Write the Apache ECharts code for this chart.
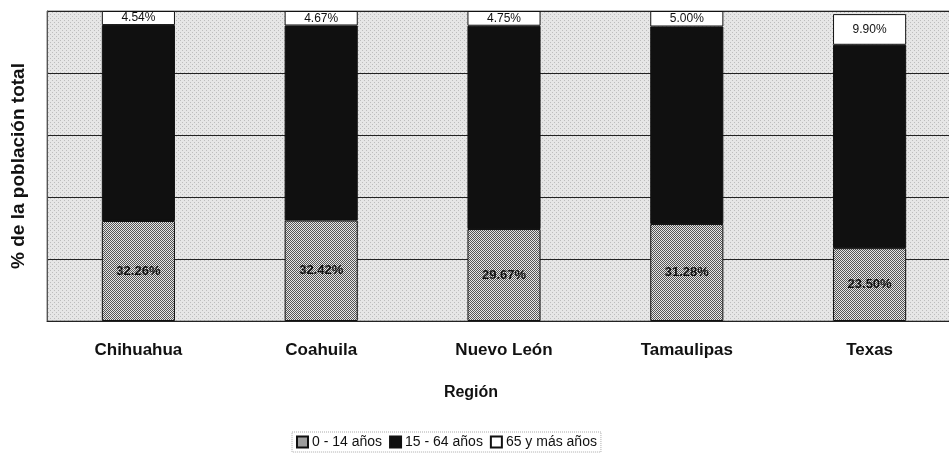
<!DOCTYPE html>
<html>
<head>
<meta charset="utf-8">
<script src="https://cdn.jsdelivr.net/npm/echarts@6/dist/echarts.min.js"></script>
<style>
  html, body { margin: 0; padding: 0; background: #fff; overflow: hidden; }
  /* el área de trazado sigue más allá del borde derecho, como en el original */
  #chart { width: 961px; height: 458px; }
</style>
</head>
<body>
<div id="chart"></div>
<script>
// datos por región (% de la población total)
const regiones = ['Chihuahua', 'Coahuila', 'Nuevo León', 'Tamaulipas', 'Texas'];
const grupos = ['0 - 14 años', '15 - 64 años', '65 y más años'];
const ninos = [32.26, 32.42, 29.67, 31.28, 23.50];
const adultos = [63.20, 62.91, 65.58, 63.72, 65.60];
const mayores = [4.54, 4.67, 4.75, 5.00, 9.90];

// pequeños patrones punteados como en la imagen original
function makePattern(size, fg, bg, test) {
  const c = document.createElement('canvas');
  c.width = size; c.height = size;
  const ctx = c.getContext('2d');
  ctx.fillStyle = bg;
  ctx.fillRect(0, 0, size, size);
  ctx.fillStyle = fg;
  for (let y = 0; y < size; y++) {
    for (let x = 0; x < size; x++) {
      if (test(x, y)) ctx.fillRect(x, y, 1, 1);
    }
  }
  return { image: c, repeat: 'repeat' };
}
const checker = makePattern(2, '#555555', '#e6e6e6', (x, y) => (x + y) % 2 === 0);
const fondo = makePattern(4, '#bdbdbd', '#e6e6e6', (x, y) => (x + y) % 4 === 0 && y % 2 === 0);

const chart = echarts.init(document.getElementById('chart'));
chart.setOption({
  backgroundColor: '#ffffff',
  textStyle: { fontFamily: 'Liberation Sans, Arial, sans-serif' },
  grid: {
    left: 47, right: 0, top: 11, bottom: 137,
    show: true,
    backgroundColor: fondo,
    borderColor: '#777',
    borderWidth: 1
  },
  legend: {
    data: grupos,
    bottom: 6,
    left: 292,
    itemWidth: 11,
    itemHeight: 11,
    itemGap: 7,
    padding: [3, 4, 3, 4],
    borderColor: '#aaa',
    borderWidth: 1,
    borderType: 'dotted',
    textStyle: { fontSize: 14, color: '#111', padding: [0, 0, 0, -1] },
    icon: 'rect'
  },
  xAxis: {
    type: 'category',
    data: regiones,
    name: 'Región',
    nameLocation: 'middle',
    nameGap: 64,
    nameTextStyle: { fontSize: 16, fontWeight: 'bold', color: '#111', padding: [0, 66, 0, 0] },
    axisLine: { lineStyle: { color: '#222', width: 1 } },
    axisTick: { show: false },
    axisLabel: { fontSize: 17, fontWeight: 'bold', color: '#111', margin: 21 }
  },
  yAxis: {
    type: 'value',
    min: 0,
    max: 100,
    interval: 20,
    name: '% de la población total',
    nameLocation: 'middle',
    nameGap: 19,
    nameTextStyle: { fontSize: 19, fontWeight: 'bold', color: '#111' },
    axisLine: { show: true, lineStyle: { color: '#555' } },
    axisTick: { show: false },
    axisLabel: { show: false },
    splitLine: { lineStyle: { color: '#222', width: 1 } }
  },
  series: [
    {
      name: grupos[0],
      type: 'bar',
      stack: 'total',
      barWidth: '40%',
      data: ninos,
      itemStyle: { color: checker, borderColor: '#111', borderWidth: 1 },
      label: {
        show: true,
        position: 'inside',
        formatter: p => p.value.toFixed(2) + '%',
        fontSize: 13,
        fontWeight: 'bold',
        color: '#111'
      }
    },
    {
      name: grupos[1],
      type: 'bar',
      stack: 'total',
      data: adultos,
      itemStyle: { color: '#101010', borderColor: '#111', borderWidth: 1 }
    },
    {
      name: grupos[2],
      type: 'bar',
      stack: 'total',
      data: mayores,
      itemStyle: { color: '#ffffff', borderColor: '#111', borderWidth: 1 },
      label: {
        show: true,
        position: 'inside',
        formatter: p => p.value.toFixed(2) + '%',
        fontSize: 12,
        color: '#111'
      }
    }
  ]
});
</script>
</body>
</html>
